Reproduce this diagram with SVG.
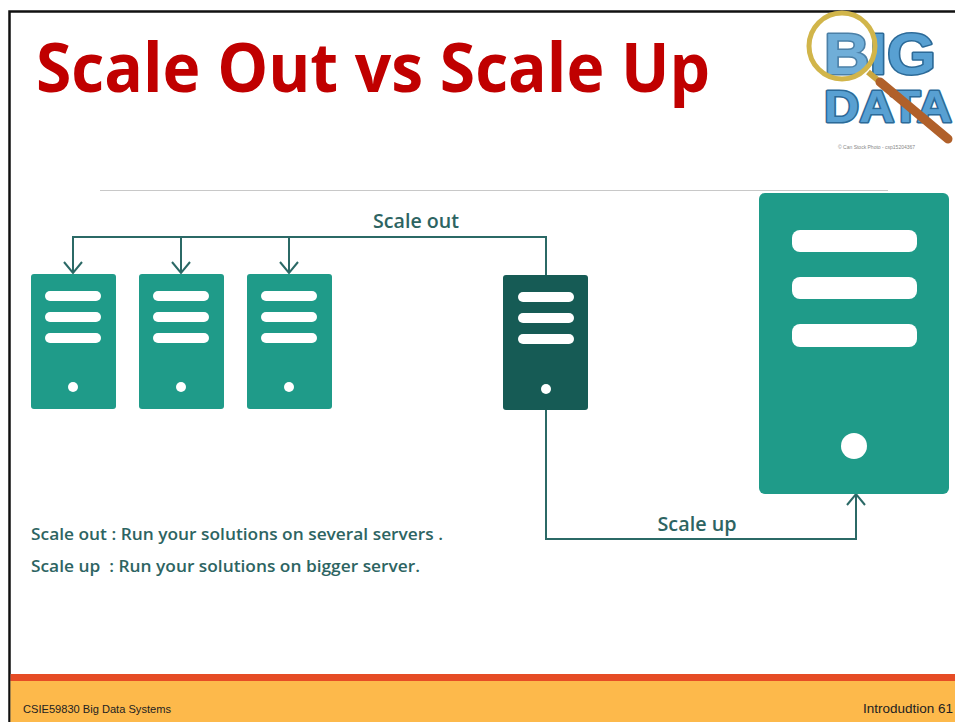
<svg xmlns="http://www.w3.org/2000/svg" width="955" height="722" viewBox="0 0 955 722">
  <style>
    .title { font-family: "Open Sans", "Liberation Sans", sans-serif; font-weight: 700; fill: #c00000; }
    .srv { fill: #1f9b89; }
    .srv-dark { fill: #165b55; }
    .bar { fill: #ffffff; }
    .wire { fill: none; stroke: #2b6966; stroke-width: 2; }
    .lbl { font-family: "Open Sans", "Liberation Sans", sans-serif; font-weight: 600; fill: #2d6462; }
    .foot { font-family: "Liberation Sans", "DejaVu Sans", sans-serif; fill: #222222; }
    .big { font-family: "Liberation Sans", "DejaVu Sans", sans-serif; font-weight: 700; fill: #58a0d2; stroke: #2c6a98; stroke-width: 3; paint-order: stroke; stroke-linejoin: round; }
  </style>
  <defs>
    <marker id="head" viewBox="0 0 14 20" refX="12" refY="10" markerWidth="14" markerHeight="20" markerUnits="userSpaceOnUse" orient="auto">
      <path d="M1,1 L12,10 L1,19" fill="none" stroke="#2b6966" stroke-width="2"/>
    </marker>
  </defs>

  <!-- slide background and frame -->
  <rect x="0" y="0" width="955" height="722" fill="#ffffff"/>
  <path d="M9.5,722 L9.5,11.5 L955,11.5" fill="none" stroke="#111111" stroke-width="2.5"/>

  <!-- title -->
  <text class="title" x="36" y="92" font-size="68" textLength="674" lengthAdjust="spacingAndGlyphs">Scale Out vs Scale Up</text>

  <!-- big data logo -->
  <g id="logo">
    <text class="big" x="824" y="74" font-size="58" textLength="112" lengthAdjust="spacingAndGlyphs">BIG</text>
    <text class="big" x="824" y="122" font-size="44" textLength="128" lengthAdjust="spacingAndGlyphs">DATA</text>
    <line x1="868" y1="72" x2="880" y2="82" stroke="#c9a640" stroke-width="6"/>
    <line x1="880" y1="82" x2="948" y2="139" stroke="#b0602a" stroke-width="9" stroke-linecap="round"/>
    <circle cx="842" cy="46" r="33" fill="#ffffff" fill-opacity="0.15" stroke="#d1b54a" stroke-width="5"/>
    <text x="838" y="149" font-family="Liberation Sans, sans-serif" font-size="5" fill="#888888">© Can Stock Photo - csp15204367</text>
  </g>

  <!-- separator -->
  <line x1="100" y1="190.5" x2="888" y2="190.5" stroke="#c8c8c8" stroke-width="1.2"/>

  <!-- connectors -->
  <g id="connectors">
    <path class="wire" d="M546,275 L546,237 L73,237 L73,273" marker-end="url(#head)"/>
    <path class="wire" d="M181,237 L181,273" marker-end="url(#head)"/>
    <path class="wire" d="M289,237 L289,273" marker-end="url(#head)"/>
    <path class="wire" d="M546,410 L546,539 L856,539 L856,494" marker-end="url(#head)"/>
  </g>

  <!-- scale-out servers -->
  <g id="server-1">
    <rect class="srv" x="31" y="274" width="85" height="135" rx="3"/>
    <rect class="bar" x="45" y="291" width="56" height="10" rx="5"/>
    <rect class="bar" x="45" y="312" width="56" height="10" rx="5"/>
    <rect class="bar" x="45" y="333" width="56" height="10" rx="5"/>
    <circle class="bar" cx="73" cy="387" r="5"/>
  </g>
  <g id="server-2">
    <rect class="srv" x="139" y="274" width="85" height="135" rx="3"/>
    <rect class="bar" x="153" y="291" width="56" height="10" rx="5"/>
    <rect class="bar" x="153" y="312" width="56" height="10" rx="5"/>
    <rect class="bar" x="153" y="333" width="56" height="10" rx="5"/>
    <circle class="bar" cx="181" cy="387" r="5"/>
  </g>
  <g id="server-3">
    <rect class="srv" x="247" y="274" width="85" height="135" rx="3"/>
    <rect class="bar" x="261" y="291" width="56" height="10" rx="5"/>
    <rect class="bar" x="261" y="312" width="56" height="10" rx="5"/>
    <rect class="bar" x="261" y="333" width="56" height="10" rx="5"/>
    <circle class="bar" cx="289" cy="387" r="5"/>
  </g>

  <!-- source server -->
  <g id="server-source">
    <rect class="srv-dark" x="503" y="275" width="85" height="135" rx="3"/>
    <rect class="bar" x="518" y="292" width="56" height="10" rx="5"/>
    <rect class="bar" x="518" y="313" width="56" height="10" rx="5"/>
    <rect class="bar" x="518" y="334" width="56" height="10" rx="5"/>
    <circle class="bar" cx="546" cy="389" r="5"/>
  </g>

  <!-- scaled-up server -->
  <g id="server-big">
    <rect class="srv" x="759" y="193" width="190" height="301" rx="6"/>
    <rect class="bar" x="792" y="230" width="125" height="22" rx="8"/>
    <rect class="bar" x="792" y="277" width="125" height="22" rx="8"/>
    <rect class="bar" x="792" y="324" width="125" height="23" rx="8"/>
    <circle class="bar" cx="854" cy="446" r="13"/>
  </g>

  <!-- connector labels -->
  <text class="lbl" x="416" y="228" font-size="19" text-anchor="middle" textLength="86" lengthAdjust="spacingAndGlyphs">Scale out</text>
  <text class="lbl" x="697" y="531" font-size="20" text-anchor="middle" textLength="79" lengthAdjust="spacingAndGlyphs">Scale up</text>

  <!-- legend -->
  <g id="legend">
    <text class="lbl" x="31" y="540" font-size="16.5" textLength="412" lengthAdjust="spacingAndGlyphs">Scale out : Run your solutions on several servers .</text>
    <text class="lbl" x="31" y="572" font-size="16.5" textLength="389" lengthAdjust="spacingAndGlyphs" style="white-space: pre">Scale up  : Run your solutions on bigger server.</text>
  </g>

  <!-- footer -->
  <rect x="10.5" y="674" width="945" height="7" fill="#e64c25"/>
  <rect x="10.5" y="681" width="945" height="41" fill="#fdb94b"/>
  <text class="foot" x="23" y="713" font-size="10.5" textLength="148" lengthAdjust="spacingAndGlyphs">CSIE59830 Big Data Systems</text>
  <text class="foot" x="953" y="713" font-size="12" text-anchor="end" textLength="90" lengthAdjust="spacingAndGlyphs">Introdudtion 61</text>
</svg>
